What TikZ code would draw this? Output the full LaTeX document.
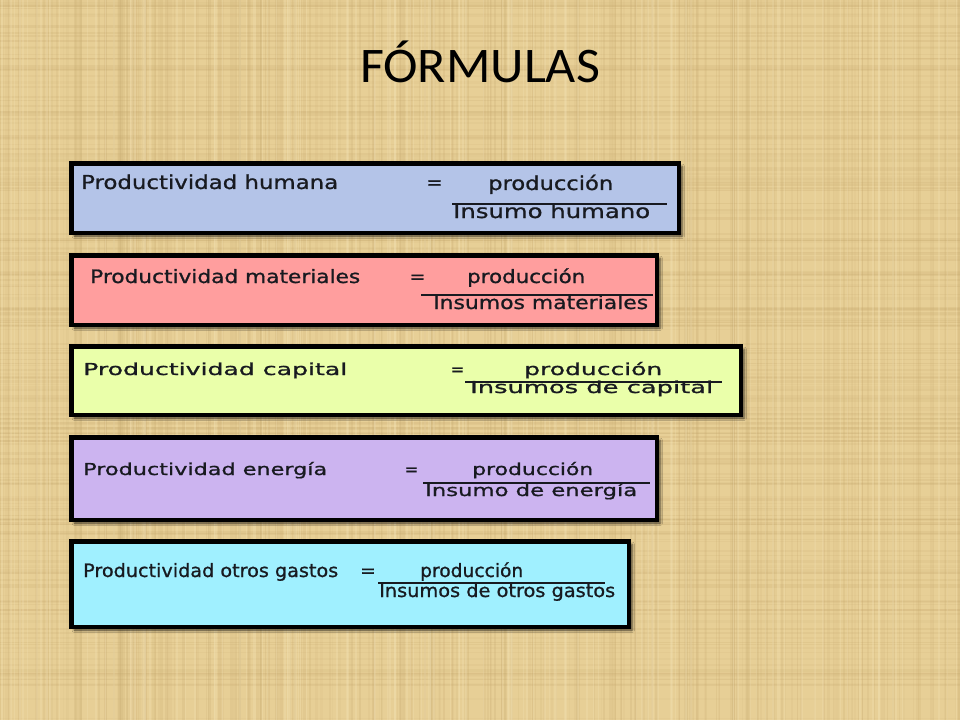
\documentclass[tikz,border=0pt]{standalone}
\usepackage{fontspec}
\setmainfont[FakeBold=0.9]{DejaVu Sans}
\newfontfamily\titlefont{Carlito}
\usepackage{graphicx}
\usetikzlibrary{shadows.blur}
\definecolor{bg}{RGB}{231,207,150}
\definecolor{bgdark}{RGB}{196,166,108}
\definecolor{bglight}{RGB}{244,228,185}
\definecolor{c1}{RGB}{180,196,232}
\definecolor{c2}{RGB}{255,158,158}
\definecolor{c3}{RGB}{234,255,170}
\definecolor{c4}{RGB}{204,180,240}
\definecolor{c5}{RGB}{160,240,255}
\definecolor{ink}{RGB}{24,26,32}
\newsavebox\fitbox
\newcommand\fitw[3]{{\fontsize{#2}{#2}\selectfont\sbox\fitbox{#3}%
  \pgfmathsetmacro\myxs{#1*1.00375/\the\wd\fitbox}%
  \scalebox{\myxs}[1]{\usebox\fitbox}}}
\tikzset{
  fbox/.style={draw=black, line width=4.5bp, inner sep=0pt, anchor=north west,
    blur shadow={shadow xshift=3bp, shadow yshift=-3bp, shadow blur radius=2.5bp, shadow opacity=70}},
  txt/.style={inner sep=0pt, text=ink},
  fline/.style={draw=ink, line width=2.3bp}
}
\begin{document}
\begin{tikzpicture}[x=1bp, y=-1bp]
\useasboundingbox (0,0) rectangle (960,720);
% background texture
\fill[bg] (0,0) rectangle (960,720);
\pgfmathsetseed{7}
\foreach \i in {1,...,260}{
  \pgfmathsetmacro\xx{rnd*960}
  \pgfmathsetmacro\ww{0.6+rnd*2.4}
  \pgfmathsetmacro\op{0.06+rnd*0.16}
  \draw[bgdark, line width=\ww bp, opacity=\op] (\xx,0) -- (\xx,720);
}
\foreach \i in {1,...,200}{
  \pgfmathsetmacro\yy{rnd*720}
  \pgfmathsetmacro\ww{0.6+rnd*2.4}
  \pgfmathsetmacro\op{0.06+rnd*0.16}
  \draw[bgdark, line width=\ww bp, opacity=\op] (0,\yy) -- (960,\yy);
}
\foreach \i in {1,...,120}{
  \pgfmathsetmacro\xx{rnd*960}
  \pgfmathsetmacro\ww{0.6+rnd*2}
  \draw[bglight, line width=\ww bp, opacity=0.25] (\xx,0) -- (\xx,720);
}
% title
\node[txt, anchor=base, text=black] (title) at (480,83) {\titlefont\fitw{240}{50}{FÓRMULAS}};
% boxes (outer extents)
\node[fbox, fill=c1, minimum width=607.5bp, minimum height=69.5bp] (b1) at (69.25,161.25) {};
\node[fbox, fill=c2, minimum width=585.5bp, minimum height=69.5bp] (b2) at (69.25,253.25) {};
\node[fbox, fill=c3, minimum width=669.5bp, minimum height=68.5bp] (b3) at (69.25,344.25) {};
\node[fbox, fill=c4, minimum width=585.5bp, minimum height=82.5bp] (b4) at (69.25,435.25) {};
\node[fbox, fill=c5, minimum width=557.5bp, minimum height=85.5bp] (b5) at (69.25,539.25) {};
% box 1
\node[txt, anchor=base west] (l1) at (81,189) {\fitw{257}{19.2}{Productividad humana}};
\node[txt, anchor=base] (e1) at (434.5,189) {\fontsize{19.2}{19.2}\selectfont =};
\node[txt, anchor=base west] (n1) at (488,190) {\fitw{125}{19.2}{producción}};
\node[txt, anchor=base west] (d1) at (453,218) {\fitw{197}{19.2}{Insumo humano}};
\draw[fline] (452,204) -- (667,204);
% box 2
\node[txt, anchor=base west] (l2) at (90,283) {\fitw{270}{18.5}{Productividad materiales}};
\node[txt, anchor=base] (e2) at (417.5,283) {\fontsize{18.5}{18.5}\selectfont =};
\node[txt, anchor=base west] (n2) at (467,283) {\fitw{118}{18.5}{producción}};
\node[txt, anchor=base west] (d2) at (433,309) {\fitw{215}{18.5}{Insumos materiales}};
\draw[fline] (421,295) -- (653,295);
% box 3
\node[txt, anchor=base west] (l3) at (83,375) {\fitw{264}{16.5}{Productividad capital}};
\node[txt, anchor=base] (e3) at (457.5,375) {\fontsize{16.5}{16.5}\selectfont =};
\node[txt, anchor=base west] (n3) at (524,375) {\fitw{138}{16.5}{producción}};
\node[txt, anchor=base west] (d3) at (470,393) {\fitw{243}{16.5}{Insumos de capital}};
\draw[fline] (465,382) -- (722,382);
% box 4
\node[txt, anchor=base west] (l4) at (83,475) {\fitw{244}{16.5}{Productividad energía}};
\node[txt, anchor=base] (e4) at (411.5,475) {\fontsize{16.5}{16.5}\selectfont =};
\node[txt, anchor=base west] (n4) at (472,475) {\fitw{121}{16.5}{producción}};
\node[txt, anchor=base west] (d4) at (425,496) {\fitw{212}{16.5}{Insumo de energía}};
\draw[fline] (423,483) -- (650,483);
% box 5
\node[txt, anchor=base west] (l5) at (83,577) {\fitw{255}{18.5}{Productividad otros gastos}};
\node[txt, anchor=base] (e5) at (368,577) {\fontsize{18.5}{18.5}\selectfont =};
\node[txt, anchor=base west] (n5) at (420,577) {\fitw{103}{18.5}{producción}};
\node[txt, anchor=base west] (d5) at (379,597) {\fitw{236}{18.5}{Insumos de otros gastos}};
\draw[fline] (378,583) -- (605,583);
\end{tikzpicture}
\end{document}
